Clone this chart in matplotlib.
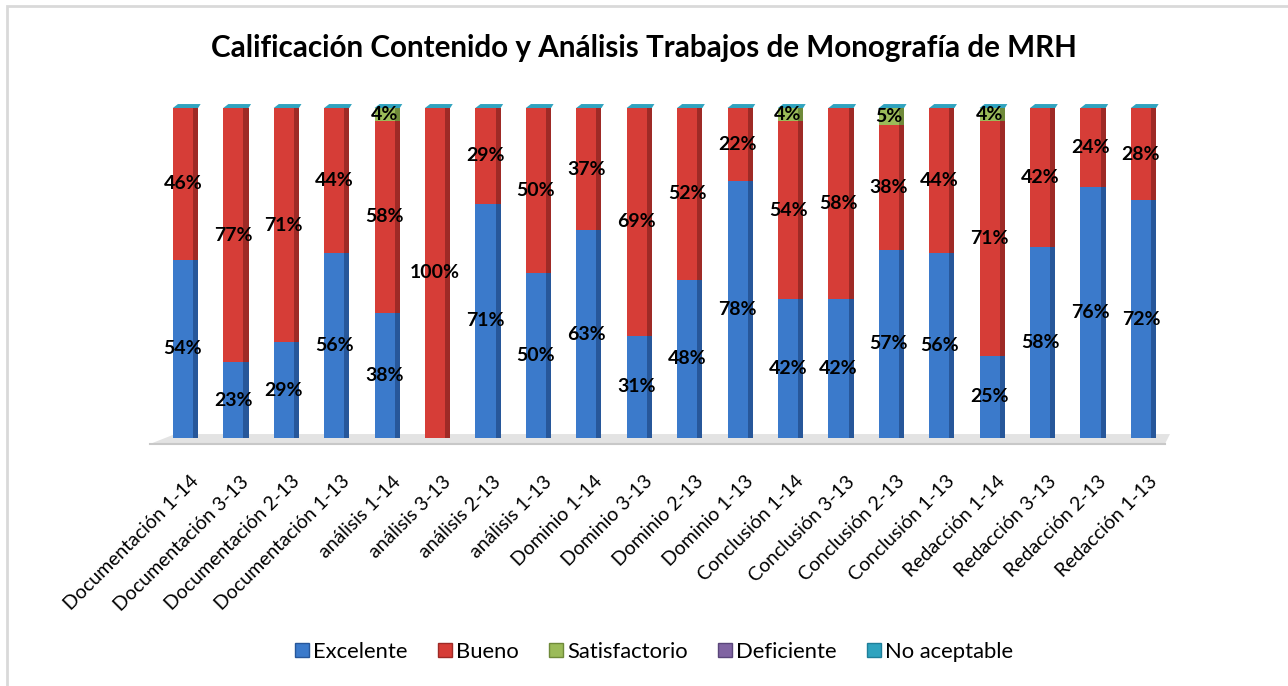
import matplotlib
matplotlib.use("Agg")
import matplotlib.pyplot as plt
from matplotlib.patches import Polygon, Rectangle
from matplotlib.lines import Line2D
import numpy as np

categories = ["Documentación 1-14", "Documentación 3-13", "Documentación 2-13", "Documentación 1-13",
              "análisis 1-14", "análisis 3-13", "análisis 2-13", "análisis 1-13",
              "Dominio 1-14", "Dominio 3-13", "Dominio 2-13", "Dominio 1-13",
              "Conclusión 1-14", "Conclusión 3-13", "Conclusión 2-13", "Conclusión 1-13",
              "Redacción 1-14", "Redacción 3-13", "Redacción 2-13", "Redacción 1-13"]
excelente = [54, 23, 29, 56, 38, 0, 71, 50, 63, 31, 48, 78, 42, 42, 57, 56, 25, 58, 76, 72]
bueno = [46, 77, 71, 44, 58, 100, 29, 50, 37, 69, 52, 22, 54, 58, 38, 44, 71, 42, 24, 28]
satisfactorio = [0, 0, 0, 0, 4, 0, 0, 0, 0, 0, 0, 0, 4, 0, 5, 0, 4, 0, 0, 0]
deficiente = [0] * 20
no_aceptable = [0] * 20
series_names = ["Excelente", "Bueno", "Satisfactorio", "Deficiente", "No aceptable"]
title = "Calificación Contenido y Análisis Trabajos de Monografía de MRH"

front_colors = ["#3b7acb", "#d63d37", "#9bbb59", "#8064a2", "#2fa3bf"]
side_colors = ["#27579a", "#9e2a26", "#6f8a3a", "#5a467a", "#1f7f99"]

plt.rcParams['font.family'] = ['Lato', 'DejaVu Sans']

W, H = 1288, 686
fig = plt.figure(figsize=(W / 100, H / 100), dpi=100)
fig.patch.set_facecolor("white")

# axes placement (pixels)
left_px, right_px, bottom_px, top_px = 150, 1170, 438, 108
ax = fig.add_axes([left_px / W, 1 - bottom_px / H, (right_px - left_px) / W, (bottom_px - top_px) / H])
n = len(categories)
x = np.arange(n)
spacing = (1143 - 185) / (n - 1)
ax.set_xlim(-(185 - left_px) / spacing, (n - 1) + (right_px - 1143) / spacing)
ax.set_ylim(0, 100)
for s in ax.spines.values():
    s.set_visible(False)
ax.set_yticks([])

# floor
xl, xr = ax.get_xlim()
floor = Polygon([(xl, -1.8), (xr - 0.1, -1.8), (xr, 1.2), (xl + 0.5, 1.2)], closed=True,
                facecolor="#e3e3e3", edgecolor="none", clip_on=False, zorder=0)
ax.add_patch(floor)
ax.plot([xl, xr - 0.1], [-1.8, -1.8], color="#c8c8c8", lw=1.5, clip_on=False, zorder=0)

fw = 0.40   # front width
sw = 0.10   # side width
xc = x - 0.04
all_series = [excelente, bueno, satisfactorio, deficiente, no_aceptable]
bottom = np.zeros(n)
for vals, fc, sc in zip(all_series, front_colors, side_colors):
    v = np.array(vals, dtype=float)
    ax.bar(xc, v, width=fw, bottom=bottom, color=fc, edgecolor="none", zorder=2)
    ax.bar(xc + fw / 2 + sw / 2, v, width=sw, bottom=bottom, color=sc, edgecolor="none", zorder=2)
    bottom = bottom + v

# top cap (No aceptable top face)
for xi, tot in zip(xc, bottom):
    cap = Polygon([(xi - fw / 2, tot), (xi + fw / 2 + sw, tot), (xi + fw / 2 + sw + 0.05, tot + 1.2),
                   (xi - fw / 2 + 0.1, tot + 1.2)], closed=True, facecolor=front_colors[4],
                  edgecolor="none", clip_on=False, zorder=3)
    ax.add_patch(cap)

# data labels
bottom = np.zeros(n)
for vals in all_series:
    v = np.array(vals, dtype=float)
    for xi, b, val in zip(xc, bottom, v):
        if val > 0:
            ax.text(xi, b + val / 2, f"{int(val)}%", ha="center", va="center",
                    fontsize=14, fontweight="bold", color="black", zorder=5)
    bottom = bottom + v

ax.set_xticks(x + 0.1)
ax.set_xticklabels(categories, rotation=45, ha="right", rotation_mode="anchor", fontsize=14)
ax.tick_params(axis="x", length=0, pad=25)

fig.text(0.5, 1 - 48 / H, title, ha="center", va="center", fontsize=21.3, fontweight="bold")

handles = [Line2D([0], [0], marker="s", linestyle="none", markersize=10,
                  markerfacecolor=c, markeredgecolor=sc) for c, sc in zip(front_colors, side_colors)]
fig.legend(handles, series_names, loc="center", bbox_to_anchor=(0.5 + 9 / W, 1 - 652 / H), ncol=5,
           frameon=False, fontsize=15.8, handletextpad=0.1, columnspacing=1.3, handlelength=0.8)

# chart border
fig.patches.append(Rectangle((7 / W, -0.1), 1.2, 1 - 6 / H + 0.1, transform=fig.transFigure,
                             fill=False, edgecolor="#d9d9d9", lw=2))

fig.savefig("out.png", dpi=100, facecolor="white")
